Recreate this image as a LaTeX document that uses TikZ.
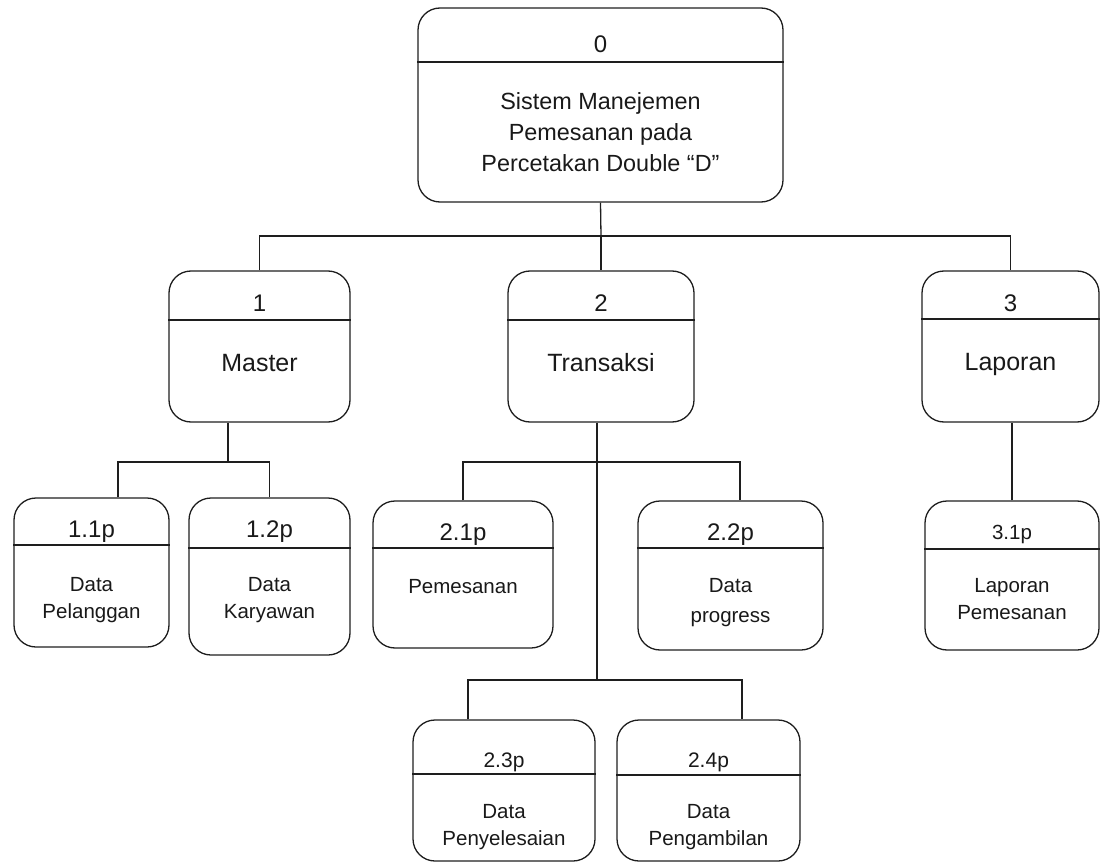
\documentclass[tikz,border=0pt]{standalone}
\usepackage{fontspec}
\setmainfont{Liberation Sans}
\definecolor{ln}{RGB}{30,30,30}
\definecolor{tx}{RGB}{25,25,25}
\tikzset{
  pbox/.style={draw=ln, rounded corners=22pt, inner sep=0pt, line width=1.3pt},
  divline/.style={draw=ln, line width=1.3pt},
  conn/.style={draw=ln, line width=1.3pt},
  txt/.style={text=tx, inner sep=0pt, align=center},
  hdrA/.style={txt, font=\fontsize{24}{28}\selectfont},
  hdrB/.style={txt, font=\fontsize{21}{26}\selectfont},
  bodyTop/.style={txt, font=\fontsize{23.4}{31}\selectfont},
  bodyMid/.style={txt, font=\fontsize{25}{30}\selectfont},
  bodyS/.style={txt, font=\fontsize{20.5}{27}\selectfont},
  bodyS2/.style={txt, font=\fontsize{20.5}{30}\selectfont},
}
% name, left, top, right, bottom, divider y
\newcommand\procbox[6]{%
  \node[pbox, minimum width={(#4-#2)*1pt}, minimum height={(#5-#3)*1pt}] (#1) at ({(#2+#4)/2},{(#3+#5)/2}) {};
  \draw[divline] (#1.west |- 0,#6) -- (#1.east |- 0,#6);
}
\begin{document}
\begin{tikzpicture}[x=1pt,y=-1pt]
\useasboundingbox (0,0) rectangle (1101,864);

% boxes
\procbox{top}{418}{8}{783}{202}{62}
\procbox{b1}{169}{271}{350}{422}{320}
\procbox{b2}{508}{271}{694}{422}{320}
\procbox{b3}{922}{271}{1099}{422}{319}
\procbox{b11}{14}{498}{169}{647}{545}
\procbox{b12}{189}{498}{350}{655}{548}
\procbox{b21}{373}{501}{553}{648}{548}
\procbox{b22}{638}{501}{823}{650}{548}
\procbox{b31}{925}{501}{1099}{650}{549}
\procbox{b23}{413}{720}{595}{861}{774}
\procbox{b24}{617}{720}{800}{861}{775}

% texts
\node[hdrA] (t0h) at (600.5,44) {0};
\node[bodyTop] (t0b) at (600.5,132) {Sistem Manejemen\\Pemesanan pada\\Percetakan Double “D”};
\node[hdrA] (t1h) at (259.5,303) {1};
\node[bodyMid] (t1b) at (259.5,363) {Master};
\node[hdrA] (t2h) at (601,303) {2};
\node[bodyMid] (t2b) at (601,363) {Transaksi};
\node[hdrA] (t3h) at (1010.5,303) {3};
\node[bodyMid] (t3b) at (1010.5,364) {Laporan};
\node[hdrA] (t11h) at (91.5,532) {1.1p};
\node[bodyS] (t11b) at (91.5,600) {Data\\Pelanggan};
\node[hdrA] (t12h) at (269.5,532) {1.2p};
\node[bodyS] (t12b) at (269.5,600) {Data\\Karyawan};
\node[hdrA] (t21h) at (463,535) {2.1p};
\node[bodyS] (t21b) at (463,587) {Pemesanan};
\node[hdrA] (t22h) at (730.5,535) {2.2p};
\node[bodyS2] (t22b) at (730.5,603) {Data\\progress};
\node[bodyS] (t31h) at (1012,534) {3.1p};
\node[bodyS] (t31b) at (1012,599) {Laporan\\Pemesanan};
\node[hdrB] (t23h) at (504,762) {2.3p};
\node[bodyS] (t23b) at (504,827) {Data\\Penyelesaian};
\node[hdrB] (t24h) at (708.5,762) {2.4p};
\node[bodyS] (t24b) at (708.5,827) {Data\\Pengambilan};

% connectors
\coordinate (j0) at (601,236);
\draw[conn] (top.south) -- (j0);
\draw[conn] (b1.north) |- (j0) -| (b3.north);
\draw[conn] (j0) -- (b2.north);

\coordinate (j1) at (228,462);
\coordinate (j1a) at (118,462);
\draw[conn] (b1.south -| j1) -- (j1);
\draw[conn] (j1a |- b11.north) -- (j1a) -| (b12.north);

\coordinate (j2) at (597,462);
\coordinate (j2b) at (740,462);
\draw[conn] (b2.south -| j2) -- (j2);
\draw[conn] (b21.north) |- (j2b) -- (j2b |- b22.north);

\coordinate (j3) at (597,680);
\coordinate (j3a) at (468,680);
\coordinate (j3b) at (742,680);
\draw[conn] (j2) -- (j3);
\draw[conn] (j3a |- b23.north) -- (j3a) -- (j3b) -- (j3b |- b24.north);

\draw[conn] (b31.north) -- (b31.north |- b3.south);
\end{tikzpicture}
\end{document}
